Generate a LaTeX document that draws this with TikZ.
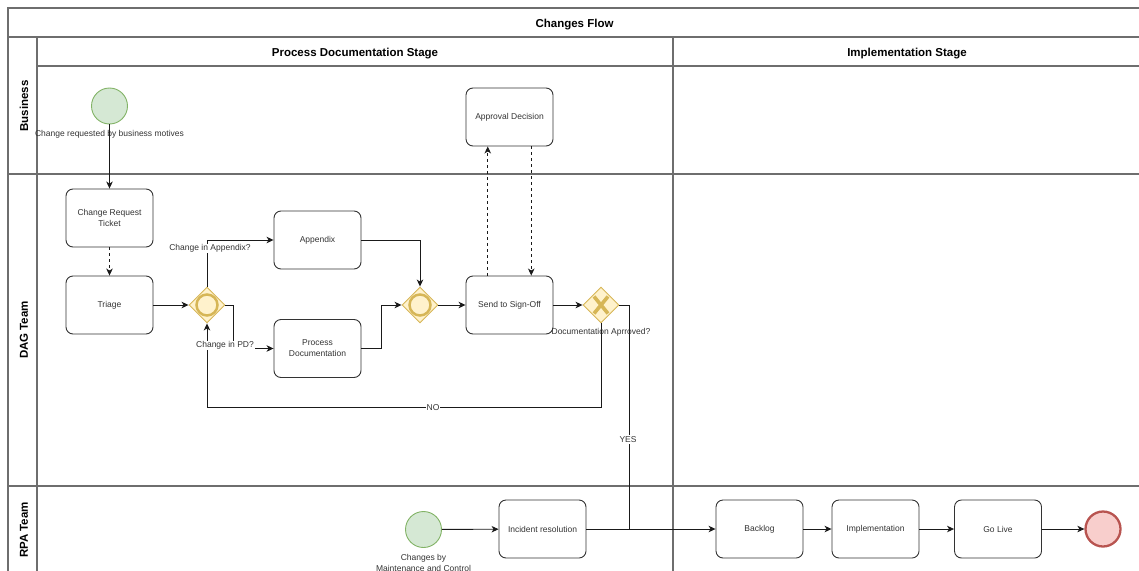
\documentclass[tikz,border=0pt]{standalone}
\usepackage{fontspec}
\setmainfont{Liberation Sans}
\usetikzlibrary{shapes.geometric,arrows.meta}
\definecolor{startfill}{HTML}{D5E8D4}
\definecolor{startline}{HTML}{82B366}
\definecolor{endfill}{HTML}{F8CECC}
\definecolor{endline}{HTML}{B85450}
\definecolor{gwfill}{HTML}{FFF2CC}
\definecolor{gwline}{HTML}{D6B656}
\definecolor{lanegray}{HTML}{6E6E6E}
\definecolor{txtgray}{HTML}{333333}
\definecolor{edgecol}{HTML}{1A1A1A}
\newcommand{\smalltxt}{\fontsize{8.5}{11}\selectfont}
\newcommand{\headtxt}{\fontsize{11.5}{13}\selectfont\bfseries}
\begin{document}
\begin{tikzpicture}[x=1pt,y=-1pt,
  laneline/.style={draw=lanegray,line width=1.1pt},
  task/.style={draw=black!80,line width=0.9pt,rounded corners=7pt,minimum width=87pt,minimum height=58pt,align=center,font=\smalltxt,text=txtgray,inner sep=2pt},
  startev/.style={circle,draw=startline,fill=startfill,line width=0.9pt,minimum size=36pt,inner sep=0pt},
  endev/.style={circle,draw=endline,fill=endfill,line width=2.3pt,minimum size=35pt,inner sep=0pt},
  gateway/.style={diamond,draw=gwline,fill=gwfill,line width=0.9pt,minimum width=36pt,minimum height=36pt,aspect=1,inner sep=0pt},
  flow/.style={draw=edgecol,line width=0.9pt,-{Stealth[length=7pt,width=6.5pt,inset=2pt]}},
  flowdash/.style={flow,dash pattern=on 3pt off 3pt},
  plain/.style={draw=edgecol,line width=0.9pt},
  lbl/.style={font=\smalltxt,text=txtgray,align=center,inner sep=1pt},
  elbl/.style={lbl,fill=white},
  headlbl/.style={font=\headtxt,text=black}]

\useasboundingbox (0,0) rectangle (1139,570);

% pool frame and lanes
\draw[laneline] (1141,8) -- (8,8) -- (8,580);
\draw[laneline] (8,37) -- (1141,37);
\draw[laneline] (37,66) -- (1141,66);
\draw[laneline] (8,174) -- (1141,174);
\draw[laneline] (8,486) -- (1141,486);
\draw[laneline] (37,37) -- (37,580);
\draw[laneline] (673,37) -- (673,580);

\node[headlbl] (title) at (574.5,24.5) {Changes Flow};
\node[headlbl] (stage1) at (355,53.5) {Process Documentation Stage};
\node[headlbl] (stage2) at (907,53.5) {Implementation Stage};
\node[headlbl,rotate=90] (laneA) at (24,106) {Business};
\node[headlbl,rotate=90] (laneB) at (24,330) {DAG Team};
\node[headlbl,rotate=90] (laneC) at (24,530) {RPA Team};

% Business lane
\node[startev] (start1) at (109.5,106) {};
\node[lbl] (start1lbl) at (109.5,134) {Change requested by business motives};
\node[task] (appr) at (509.5,117) {Approval Decision};

% DAG Team lane
\node[task] (crt) at (109.5,218) {Change Request\\Ticket};
\node[task] (triage) at (109.5,305) {Triage};
\node[gateway] (g1) at (207,305) {};
\draw[gwline,line width=2.5pt] (g1.center) circle (10.5pt);
\node[task] (app) at (317.5,240) {Appendix};
\node[task] (pd) at (317.5,348.5) {Process\\Documentation};
\node[gateway] (g2) at (420,305) {};
\draw[gwline,line width=2.5pt] (g2.center) circle (10.5pt);
\node[task] (send) at (509.5,305) {Send to Sign-Off};
\node[gateway] (g3) at (601,305) {};
\draw[gwline,line width=3.6pt] ([shift={(-7,-8.5)}]g3.center) -- ([shift={(7,8.5)}]g3.center)
  ([shift={(7,-8.5)}]g3.center) -- ([shift={(-7,8.5)}]g3.center);

% RPA Team lane
\node[startev] (start2) at (423.5,529.5) {};
\node[lbl] (start2lbl) at (423.5,562.5) {Changes by\\Maintenance and Control};
\node[task] (incident) at (542.5,529) {Incident resolution};
\node[task] (backlog) at (759.5,529) {Backlog};
\node[task] (impl) at (875.5,529) {Implementation};
\node[task] (golive) at (998,529) {Go Live};
\node[endev] (endE) at (1103,529) {};
\coordinate (join) at (629,529);

% sequence flows
\draw[flow] (start1) -- (crt);
\draw[flowdash] (crt) -- (triage);
\draw[flow] (triage) -- (g1);
\draw[flow] (g1.north) |- (app.west);
\draw[flow] (g1.east) -- ++(8,0) |- (pd.west);
\draw[flow] (app.east) -| (g2.north);
\draw[flow] (pd.east) -- ++(20,0) |- (g2.west);
\draw[flow] (g2) -- (send);
\draw[flowdash] ([xshift=-21.75pt]send.north) -- ([xshift=-21.75pt]appr.south);
\draw[flowdash] ([xshift=21.75pt]appr.south) -- ([xshift=21.75pt]send.north);
\draw[flow] (send) -- (g3);
\draw[flow] (g3.south) -- ++(0,84) -| (g1.south);
\draw[plain] (g3.east) -| (join);
\draw[flow] (start2) -- (incident);
\draw[flow] (incident) -- (backlog);
\draw[flow] (backlog) -- (impl);
\draw[flow] (impl) -- (golive);
\draw[flow] (golive) -- (endE);

% gateway and edge labels
\node[lbl] (g3lbl) at (601,332.5) {Documentation Aprroved?};
\node[elbl] (appq) at (210,248.5) {Change in Appendix?};
\node[elbl] (pdq) at (225,345.5) {Change in PD?};
\node[elbl] (nolbl) at (433,407.5) {NO};
\node[elbl] (yeslbl) at (628,439.5) {YES};
\end{tikzpicture}
\end{document}
